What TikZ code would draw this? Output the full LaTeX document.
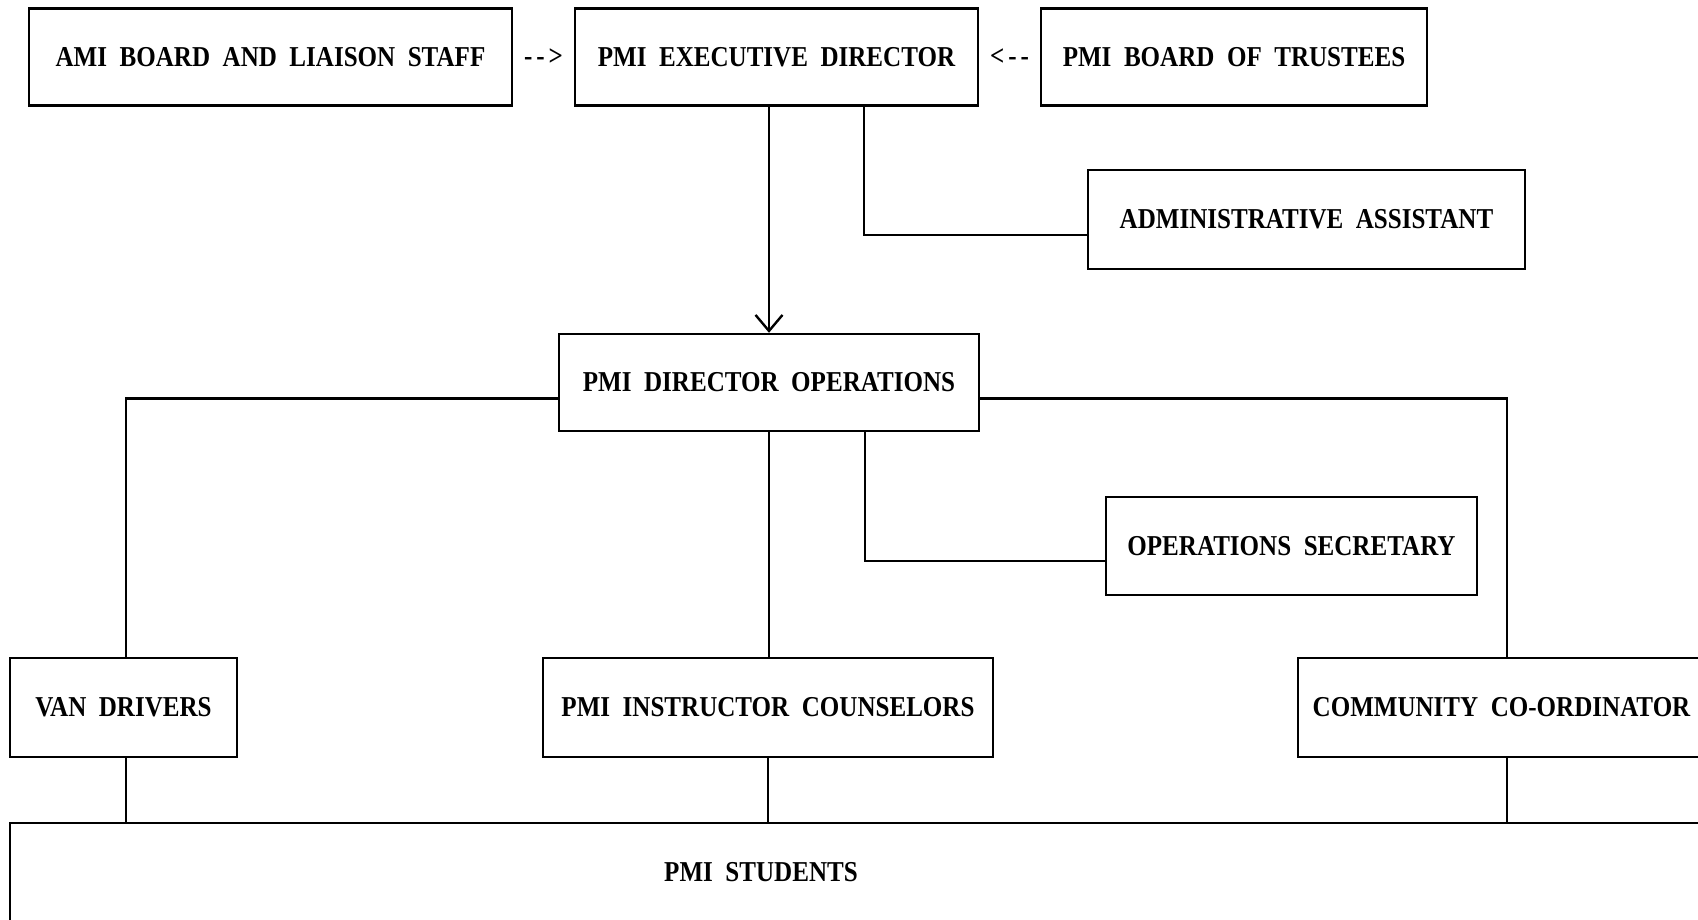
\documentclass[tikz,border=0pt]{standalone}
\usepackage{fontspec}
\setmainfont{Liberation Serif}[FakeStretch=0.87, WordSpace=2]
\usetikzlibrary{calc, arrows.meta}

\begin{document}
\begin{tikzpicture}[x = 0.5pt, y = -0.5pt, box/.style = {draw, line width = 1.2pt, minimum height = 48.5pt, inner sep = 0pt, font = \fontsize{14.4}{17}\selectfont\bfseries}, lbl/.style = {inner sep = 0pt, font = \fontsize{14.4}{17}\selectfont\bfseries}, link/.style = {line width = 1.2pt}]
        \useasboundingbox (0,0) rectangle (1698,920);
        \clip (0,0) rectangle (1698,920);

        \node [box, minimum width = 241.5pt] (ami) at (270.5, 57) {AMI BOARD AND LIAISON STAFF};
        \node [box, minimum width = 201.5pt] (exec) at (776.5, 57) {PMI EXECUTIVE DIRECTOR};
        \node [box, minimum width = 193pt] (trustees) at (1234, 57) {PMI BOARD OF TRUSTEES};
        \node [lbl] (amiarrow) at ($ (ami.east)!0.5!(exec.west) $) {-\kern2pt-\kern2pt>};
        \node [lbl] (trarrow) at ($ (exec.east)!0.5!(trustees.west) $) {<\kern2pt-\kern2pt-};

        \node [box, minimum width = 218.5pt, minimum height = 49.5pt] (admin) at (1306.5, 219.5) {ADMINISTRATIVE ASSISTANT};
        \node [box, minimum width = 210pt] (ops) at (769, 382.5) {PMI DIRECTOR OPERATIONS};
        \node [box, minimum width = 185.5pt, minimum height = 49pt] (secretary) at (1291.5, 546) {OPERATIONS SECRETARY};

        \node [box, minimum width = 113.5pt, minimum height = 49.5pt] (van) at (123.5, 707.5) {VAN DRIVERS};
        \node [box, minimum width = 225pt, minimum height = 49.5pt] (instr) at (768, 707.5) {PMI INSTRUCTOR COUNSELORS};
        \node [box, minimum width = 203.5pt, minimum height = 49.5pt] (comm) at (1501.5, 707.5) {COMMUNITY CO-ORDINATOR};

        \node [box, minimum width = 855pt, minimum height = 68.5pt] (students) at (865, 891.5) {};
        \node [lbl] (studtext) at (761, 872) {PMI STUDENTS};

        \draw [link, -{Straight Barb[length = 8pt, width = 13.5pt]}] (exec.south -| ops.north) -- (ops.north);
        \draw [link] ([xshift = 43.75pt]exec.south) |- ([yshift = -7.75pt]admin.west);
        \draw [link] ([xshift = 48pt]ops.south) |- ([yshift = -7.5pt]secretary.west);
        \draw [link] ([yshift = -8pt]ops.west) -| ([xshift = 1.25pt]van.north);
        \draw [link] ([yshift = -8pt]ops.east) -| ([xshift = 2.75pt]comm.north);
        \draw [link] (ops.south) -- (ops.south |- instr.north);
        \draw [link] ([xshift = 1.25pt]van.south) -- ([xshift = 1.25pt]van.south |- students.north);
        \draw [link] ([xshift = 2.75pt]comm.south) -- ([xshift = 2.75pt]comm.south |- students.north);
        \draw [link] (instr.south) -- (instr.south |- students.north);
\end{tikzpicture}
\end{document}
